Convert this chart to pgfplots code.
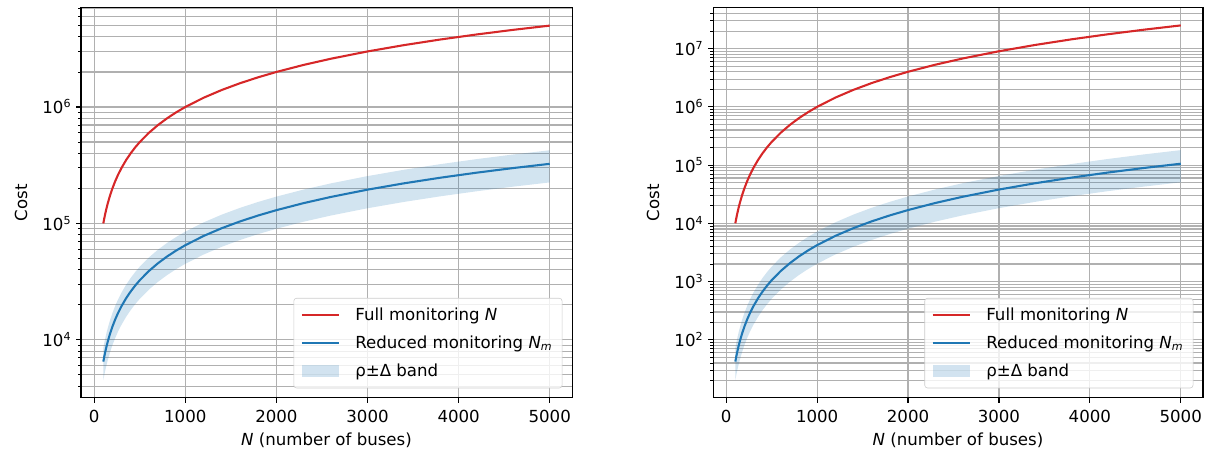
\documentclass[border=0pt]{standalone}
\usepackage{fontspec}
\setmainfont{DejaVu Sans}
\usepackage{pgfplots}
\pgfplotsset{compat=1.18}

\definecolor{tabred}{HTML}{D62728}
\definecolor{tabblue}{HTML}{1F77B4}
\definecolor{gridgray}{HTML}{B0B0B0}

\begin{document}
\begin{tikzpicture}
\path[use as bounding box] (-58.54pt,-42.64pt) rectangle (817.4pt,287.6pt);
\begin{axis}[width=354.9pt, height=281.9pt, scale only axis,
  ymode=log,
  at={(0pt,0pt)}, anchor=south west,
  xmin=-145, xmax=5245,
  xtick={0,1000,2000,3000,4000,5000},
  tick align=outside, tick pos=left,
  major tick length=3.5pt, minor tick length=2pt,
  every major tick/.append style={black, line width=0.8pt},
  every minor tick/.append style={black, line width=0.6pt},
  axis line style={line width=0.8pt},
  xmajorgrids, ymajorgrids, yminorgrids,
  major grid style={gridgray, line width=0.8pt},
  minor grid style={gridgray, line width=0.8pt},
  /pgf/number format/assume math mode=true,
  /pgf/number format/1000 sep={},
  tick label style={font=\fontsize{12}{14}\selectfont},
  label style={font=\fontsize{12}{14}\selectfont},
  xticklabel shift=2pt, ylabel shift=4pt,
  legend cell align=left,
  legend style={at={(1,0)}, anchor=south east, xshift=-7pt, yshift=7pt,
    font=\fontsize{12}{14}\selectfont,
    draw=black!20, fill=white, fill opacity=0.8, draw opacity=1, text opacity=1,
    rounded corners=2pt, inner xsep=5pt, inner ysep=5pt, row sep=5.5pt},
  xlabel={\textit{N} (number of buses)},
  ylabel={Cost},
  ymin=3170, ymax=7.1e6,
  ytick={1e4,1e5,1e6},
  yticklabels={10\textsuperscript{4},10\textsuperscript{5},10\textsuperscript{6}},
  minor ytick={4000,5000,6000,7000,8000,9000,2e4,3e4,4e4,5e4,6e4,7e4,8e4,9e4,2e5,3e5,4e5,5e5,6e5,7e5,8e5,9e5,2e6,3e6,4e6,5e6,6e6,7e6},
]
\addplot[fill=tabblue, fill opacity=0.2, draw=none, forget plot] coordinates {
(100,8500) (110,9350) (120,10200) (135,11475) (150,12750) (175,14875) (200,17000) (230,19550) (260,22100) (300,25500) (350,29750) (400,34000) (450,38250) (500,42500) (600,51000) (700,59500) (800,68000) (900,76500) (1000,85000) (1200,102000) (1400,119000) (1600,136000) (1800,153000) (2000,170000) (2300,195500) (2600,221000) (3000,255000) (3400,289000) (3800,323000) (4200,357000) (4600,391000) (5000,425000)
(5000,225000) (4600,207000) (4200,189000) (3800,171000) (3400,153000) (3000,135000) (2600,117000) (2300,103500) (2000,90000) (1800,81000) (1600,72000) (1400,63000) (1200,54000) (1000,45000) (900,40500) (800,36000) (700,31500) (600,27000) (500,22500) (450,20250) (400,18000) (350,15750) (300,13500) (260,11700) (230,10350) (200,9000) (175,7875) (150,6750) (135,6075) (120,5400) (110,4950) (100,4500)
};
\addplot[tabred, line width=1.5pt, legend image code/.code={\draw[tabred, line width=1.5pt, sharp corners] (0pt,0pt) -- (27pt,0pt); \path (36pt,0pt);}] coordinates {
(100,100000) (110,110000) (120,120000) (135,135000) (150,150000) (175,175000) (200,200000) (230,230000) (260,260000) (300,300000) (350,350000) (400,400000) (450,450000) (500,500000) (600,600000) (700,700000) (800,800000) (900,900000) (1000,1000000) (1200,1200000) (1400,1400000) (1600,1600000) (1800,1800000) (2000,2000000) (2300,2300000) (2600,2600000) (3000,3000000) (3400,3400000) (3800,3800000) (4200,4200000) (4600,4600000) (5000,5000000)
};
\addlegendentry{Full monitoring \textit{N}}
\addplot[tabblue, line width=1.5pt, legend image code/.code={\draw[tabblue, line width=1.5pt, sharp corners] (0pt,0pt) -- (27pt,0pt); \path (36pt,0pt);}] coordinates {
(100,6500) (110,7150) (120,7800) (135,8775) (150,9750) (175,11375) (200,13000) (230,14950) (260,16900) (300,19500) (350,22750) (400,26000) (450,29250) (500,32500) (600,39000) (700,45500) (800,52000) (900,58500) (1000,65000) (1200,78000) (1400,91000) (1600,104000) (1800,117000) (2000,130000) (2300,149500) (2600,169000) (3000,195000) (3400,221000) (3800,247000) (4200,273000) (4600,299000) (5000,325000)
};
\addlegendentry{Reduced monitoring \textit{N}\textsubscript{\textit{m}}}
\addlegendimage{legend image code/.code={\path[fill=tabblue, fill opacity=0.2, draw=none, sharp corners] (0pt,-4.2pt) rectangle (27pt,4.2pt); \path (36pt,0pt);}}
\addlegendentry{ρ±Δ band}
\end{axis}

\begin{axis}[width=354.1pt, height=281.9pt, scale only axis,
  ymode=log,
  at={(456.8pt,0pt)}, anchor=south west,
  xmin=-145, xmax=5245,
  xtick={0,1000,2000,3000,4000,5000},
  tick align=outside, tick pos=left,
  major tick length=3.5pt, minor tick length=2pt,
  every major tick/.append style={black, line width=0.8pt},
  every minor tick/.append style={black, line width=0.6pt},
  axis line style={line width=0.8pt},
  xmajorgrids, ymajorgrids, yminorgrids,
  major grid style={gridgray, line width=0.8pt},
  minor grid style={gridgray, line width=0.8pt},
  /pgf/number format/assume math mode=true,
  /pgf/number format/1000 sep={},
  tick label style={font=\fontsize{12}{14}\selectfont},
  label style={font=\fontsize{12}{14}\selectfont},
  xticklabel shift=2pt, ylabel shift=4pt,
  legend cell align=left,
  legend style={at={(1,0)}, anchor=south east, xshift=-7pt, yshift=7pt,
    font=\fontsize{12}{14}\selectfont,
    draw=black!20, fill=white, fill opacity=0.8, draw opacity=1, text opacity=1,
    rounded corners=2pt, inner xsep=5pt, inner ysep=5pt, row sep=5.5pt},
  xlabel={\textit{N} (number of buses)},
  ylabel={Cost},
  ymin=10.05, ymax=5.0e7,
  ytick={1e1,1e2,1e3,1e4,1e5,1e6,1e7},
  yticklabels={10\textsuperscript{1},10\textsuperscript{2},10\textsuperscript{3},10\textsuperscript{4},10\textsuperscript{5},10\textsuperscript{6},10\textsuperscript{7}},
  minor ytick={20,30,40,50,60,70,80,90,200,300,400,500,600,700,800,900,2000,3000,4000,5000,6000,7000,8000,9000,2e4,3e4,4e4,5e4,6e4,7e4,8e4,9e4,2e5,3e5,4e5,5e5,6e5,7e5,8e5,9e5,2e6,3e6,4e6,5e6,6e6,7e6,8e6,9e6,2e7,3e7,4e7},
]
\addplot[fill=tabblue, fill opacity=0.2, draw=none, forget plot] coordinates {
(100,72.25) (110,87.42) (120,104.04) (135,131.68) (150,162.56) (175,221.27) (200,289) (230,382.20) (260,488.41) (300,650.25) (350,885.06) (400,1156) (450,1463.06) (500,1806.25) (600,2601) (700,3540.25) (800,4624) (900,5852.25) (1000,7225) (1200,10404) (1400,14161) (1600,18496) (1800,23409) (2000,28900) (2300,38220.25) (2600,48841) (3000,65025) (3400,83521) (3800,104329) (4200,127449) (4600,152881) (5000,180625)
(5000,50625) (4600,42849) (4200,35721) (3800,29241) (3400,23409) (3000,18225) (2600,13689) (2300,10712.25) (2000,8100) (1800,6561) (1600,5184) (1400,3969) (1200,2916) (1000,2025) (900,1640.25) (800,1296) (700,992.25) (600,729) (500,506.25) (450,410.06) (400,324) (350,248.06) (300,182.25) (260,136.89) (230,107.12) (200,81) (175,62.02) (150,45.56) (135,36.91) (120,29.16) (110,24.50) (100,20.25)
};
\addplot[tabred, line width=1.5pt, legend image code/.code={\draw[tabred, line width=1.5pt, sharp corners] (0pt,0pt) -- (27pt,0pt); \path (36pt,0pt);}] coordinates {
(100,10000) (110,12100) (120,14400) (135,18225) (150,22500) (175,30625) (200,40000) (230,52900) (260,67600) (300,90000) (350,122500) (400,160000) (450,202500) (500,250000) (600,360000) (700,490000) (800,640000) (900,810000) (1000,1000000) (1200,1440000) (1400,1960000) (1600,2560000) (1800,3240000) (2000,4000000) (2300,5290000) (2600,6760000) (3000,9000000) (3400,11560000) (3800,14440000) (4200,17640000) (4600,21160000) (5000,25000000)
};
\addlegendentry{Full monitoring \textit{N}}
\addplot[tabblue, line width=1.5pt, legend image code/.code={\draw[tabblue, line width=1.5pt, sharp corners] (0pt,0pt) -- (27pt,0pt); \path (36pt,0pt);}] coordinates {
(100,42.25) (110,51.12) (120,60.84) (135,77.00) (150,95.06) (175,129.39) (200,169) (230,223.50) (260,285.61) (300,380.25) (350,517.56) (400,676) (450,855.56) (500,1056.25) (600,1521) (700,2070.25) (800,2704) (900,3422.25) (1000,4225) (1200,6084) (1400,8281) (1600,10816) (1800,13689) (2000,16900) (2300,22350.25) (2600,28561) (3000,38025) (3400,48841) (3800,61009) (4200,74529) (4600,89401) (5000,105625)
};
\addlegendentry{Reduced monitoring \textit{N}\textsubscript{\textit{m}}}
\addlegendimage{legend image code/.code={\path[fill=tabblue, fill opacity=0.2, draw=none, sharp corners] (0pt,-4.2pt) rectangle (27pt,4.2pt); \path (36pt,0pt);}}
\addlegendentry{ρ±Δ band}
\end{axis}
\end{tikzpicture}
\end{document}
